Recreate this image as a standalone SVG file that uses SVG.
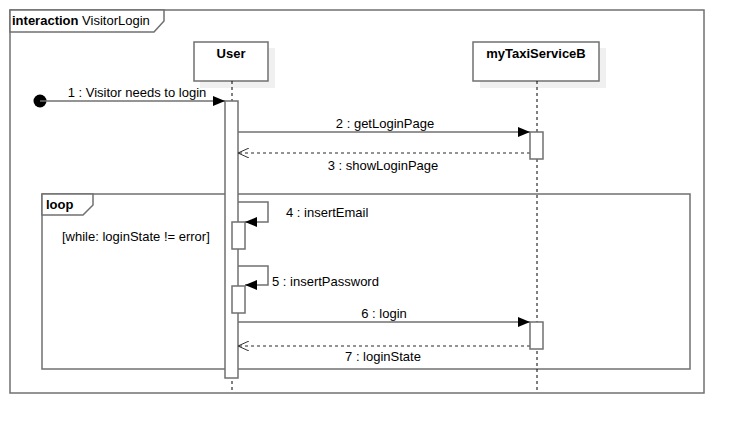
<svg xmlns="http://www.w3.org/2000/svg" width="744" height="434" viewBox="0 0 744 434">
<style>
.ln{fill:none;stroke:#707070;stroke-width:1.5}
.box{fill:#fff;stroke:#707070;stroke-width:1.5}
.sh{fill:#f0f0f0;stroke:none}
.life{stroke:#000;stroke-width:1;stroke-dasharray:3,3;fill:none}
.dash{fill:none;stroke:#707070;stroke-width:1.5;stroke-dasharray:3,3}
text{font-family:"Liberation Sans",Arial,sans-serif;font-size:13px;fill:#000}
.b{font-weight:bold}
.m{text-anchor:middle}
</style>
<defs>
<marker id="fa" viewBox="0 0 12 10" refX="12" refY="5" markerWidth="12" markerHeight="10" markerUnits="userSpaceOnUse" orient="auto">
<path d="M0,0 L12,5 L0,10 Z" fill="#000"/>
</marker>
<marker id="oa" viewBox="0 0 12 10" refX="11" refY="5" markerWidth="12" markerHeight="10" markerUnits="userSpaceOnUse" orient="auto">
<path d="M0,0 L11,5 L0,10" fill="none" stroke="#333" stroke-width="1"/>
</marker>
</defs>
<rect width="744" height="434" fill="#fff"/>
<g id="frame">
<rect class="ln" x="10" y="10" width="694" height="383"/>
<path class="box" d="M10,10 H164 V21 L154,32 H10 Z"/>
<text x="12" y="25"><tspan class="b">interaction</tspan> VisitorLogin</text>
</g>
<g id="loop">
<rect class="ln" x="42" y="194" width="648" height="175"/>
<path class="box" d="M42,194 H93 V205 L83,215 H42 Z"/>
<text class="b" x="46" y="209">loop</text>
<text x="62" y="241">[while: loginState != error]</text>
</g>
<g id="user">
<rect class="sh" x="200" y="48" width="75" height="40"/>
<rect class="box" x="194" y="42" width="74" height="39"/>
<text class="b m" x="231" y="58">User</text>
<line class="life" x1="232" y1="81" x2="232" y2="392"/>
<rect class="box" x="225" y="101" width="13" height="277"/>
<rect class="box" x="232" y="222" width="13" height="27"/>
<rect class="box" x="232" y="286" width="13" height="27"/>
</g>
<g id="taxi">
<rect class="sh" x="480" y="48" width="126" height="40"/>
<rect class="box" x="473" y="42" width="126" height="39"/>
<text class="b m" x="536" y="58">myTaxiServiceB</text>
<line class="life" x1="537" y1="81" x2="537" y2="392"/>
<rect class="box" x="530" y="132" width="13" height="27"/>
<rect class="box" x="530" y="322" width="13" height="27"/>
</g>
<g id="start">
<circle cx="40" cy="101" r="6.5" fill="#000"/>
</g>
<g id="connectors">
<line class="ln" x1="40" y1="101" x2="225" y2="101" marker-end="url(#fa)"/>
<text class="m" x="137" y="97">1 : Visitor needs to login</text>
<line class="ln" x1="238" y1="132" x2="530" y2="132" marker-end="url(#fa)"/>
<text class="m" x="385" y="128">2 : getLoginPage</text>
<line class="dash" x1="530" y1="153" x2="238" y2="153" marker-end="url(#oa)"/>
<text class="m" x="383" y="170">3 : showLoginPage</text>
<polyline class="ln" points="238,202 268,202 268,222 245,222" marker-end="url(#fa)"/>
<text x="286" y="217">4 : insertEmail</text>
<polyline class="ln" points="238,266 268,266 268,285 245,285" marker-end="url(#fa)"/>
<text x="272" y="286">5 : insertPassword</text>
<line class="ln" x1="238" y1="322" x2="530" y2="322" marker-end="url(#fa)"/>
<text class="m" x="384" y="318">6 : login</text>
<line class="dash" x1="530" y1="346" x2="238" y2="346" marker-end="url(#oa)"/>
<text class="m" x="383" y="361">7 : loginState</text>
</g>
</svg>
